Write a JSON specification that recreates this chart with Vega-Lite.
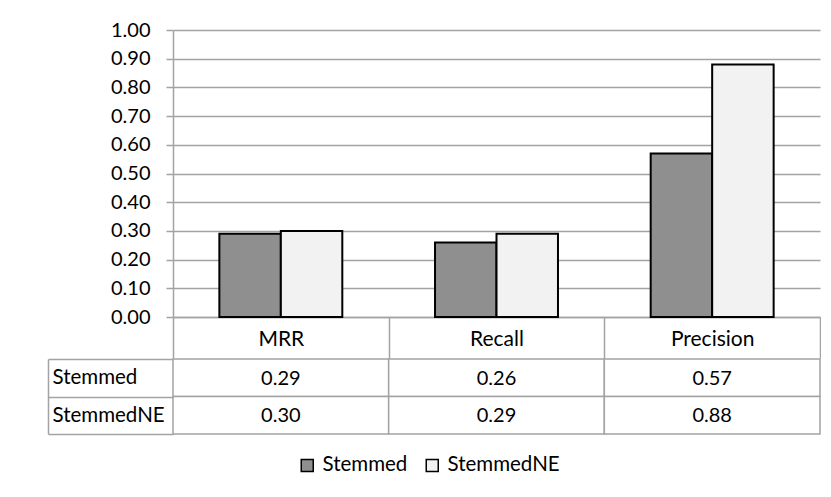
{
  "$schema": "https://vega.github.io/schema/vega-lite/v6.json",
  "background": "white",
  "padding": {"left": 47, "top": 20, "right": 0, "bottom": 0},
  "data": {"values": [
    {"metric": "MRR", "series": "Stemmed", "value": 0.29},
    {"metric": "MRR", "series": "StemmedNE", "value": 0.30},
    {"metric": "Recall", "series": "Stemmed", "value": 0.26},
    {"metric": "Recall", "series": "StemmedNE", "value": 0.29},
    {"metric": "Precision", "series": "Stemmed", "value": 0.57},
    {"metric": "Precision", "series": "StemmedNE", "value": 0.88}
  ]},
  "spacing": -12,
  "config": {
    "font": "Lato",
    "view": {"stroke": null},
    "text": {"font": "Lato", "fontSize": 20, "color": "#000000"}
  },
  "vconcat": [
    {
      "width": 647,
      "height": 287,
      "mark": {"type": "bar", "stroke": "#000000", "strokeWidth": 2},
      "encoding": {
        "x": {"field": "metric", "type": "nominal", "sort": ["MRR", "Recall", "Precision"],
              "scale": {"paddingInner": 0, "paddingOuter": 0},
              "axis": {"orient": "bottom", "title": null, "labelAngle": 0, "tickBand": "extent",
                       "tickSize": 41, "tickColor": "#a3a3a3", "tickWidth": 1.5,
                       "domainColor": "#a3a3a3", "domainWidth": 1.5,
                       "labelBaseline": "middle", "labelPadding": -19,
                       "labelFontSize": 21, "labelFont": "Lato", "labelColor": "#000000",
                       "minExtent": 41, "maxExtent": 41}},
        "xOffset": {"field": "series", "type": "nominal", "sort": ["Stemmed", "StemmedNE"],
                    "scale": {"paddingInner": 0, "paddingOuter": 0.754}},
        "y": {"field": "value", "type": "quantitative", "scale": {"domain": [0, 1]},
              "axis": {"values": [0, 0.1, 0.2, 0.3, 0.4, 0.5, 0.6, 0.7, 0.8, 0.9, 1.0],
                       "format": ".2f", "title": null, "grid": true,
                       "gridColor": "#a3a3a3", "gridWidth": 1.5,
                       "domainColor": "#a3a3a3", "domainWidth": 1.5,
                       "tickColor": "#a3a3a3", "tickWidth": 1.5, "tickSize": 7,
                       "labelPadding": 16, "labelFontSize": 20, "labelColor": "#000000",
                       "labelFont": "Lato", "minExtent": 125, "maxExtent": 125}},
        "color": {"field": "series", "type": "nominal",
                  "scale": {"domain": ["Stemmed", "StemmedNE"], "range": ["#8f8f8f", "#f2f2f2"]},
                  "legend": {"orient": "none", "legendX": 124, "legendY": 425,
                             "title": null, "direction": "horizontal",
                             "symbolType": "square", "symbolSize": 144,
                             "symbolStrokeColor": "#000000", "symbolStrokeWidth": 1.5,
                             "labelFontSize": 20.5, "labelFont": "Lato", "labelColor": "#000000",
                             "labelOffset": 5, "columnPadding": 14}}
      }
    },
    {
      "width": 647,
      "height": 75,
      "encoding": {
        "x": {"field": "metric", "type": "nominal", "sort": ["MRR", "Recall", "Precision"],
              "scale": {"paddingInner": 0, "paddingOuter": 0}, "axis": null},
        "y": {"field": "series", "type": "nominal", "sort": ["Stemmed", "StemmedNE"],
              "scale": {"paddingInner": 0, "paddingOuter": 0},
              "axis": {"title": null, "offset": 125, "tickSize": -125, "tickBand": "extent",
                       "tickColor": "#a3a3a3", "tickWidth": 1.5,
                       "domainColor": "#a3a3a3", "domainWidth": 1.5,
                       "labelAlign": "left", "labelPadding": 121,
                       "labelFontSize": 20.5, "labelFont": "Lato", "labelColor": "#000000"}}
      },
      "layer": [
        {"mark": {"type": "rect", "fill": "#ffffff", "stroke": "#a3a3a3", "strokeWidth": 1.5}},
        {"mark": {"type": "text", "fontSize": 20, "dy": 1},
         "encoding": {"text": {"field": "value", "type": "quantitative", "format": ".2f"}}}
      ]
    }
  ]
}
